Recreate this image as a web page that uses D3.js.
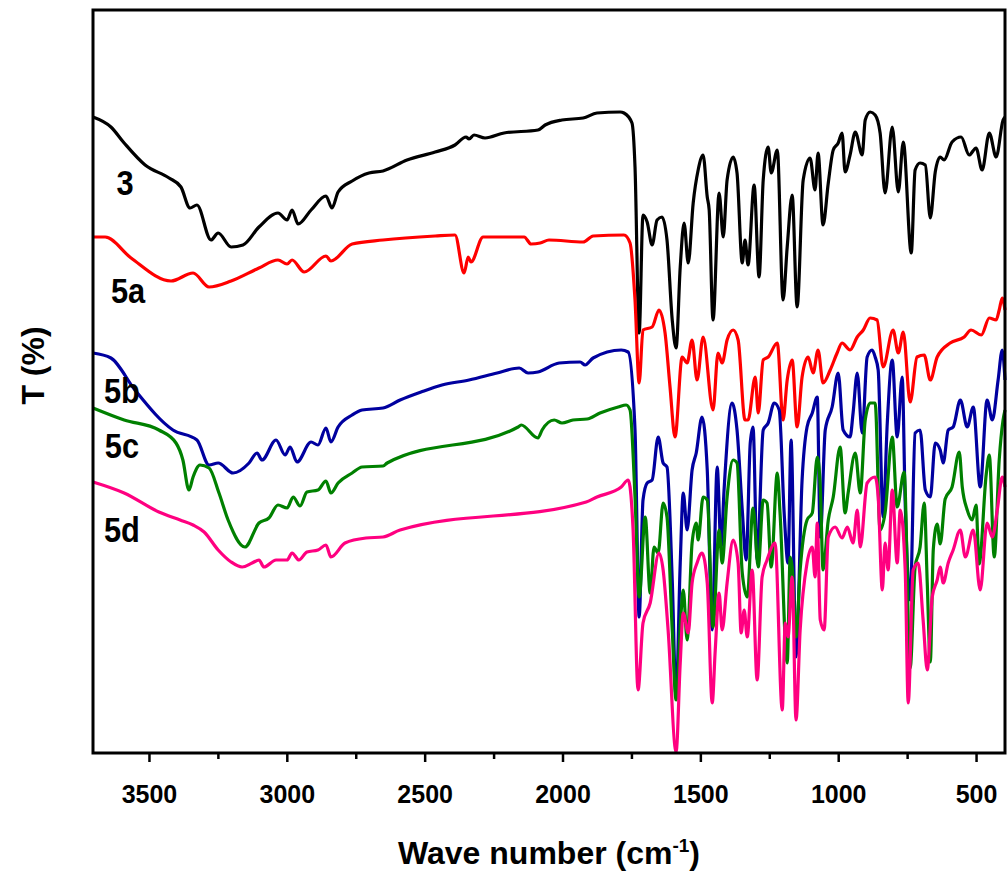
<!DOCTYPE html>
<html>
<head>
<meta charset="utf-8">
<script src="https://cdn.jsdelivr.net/npm/d3@7"></script>
<style>
  body { margin: 0; background: #fff; }
  text { font-family: "Liberation Sans", Arial, sans-serif; font-weight: bold; }
</style>
</head>
<body>
<div id="my_dataviz"></div>
<script>
// IR spectra: [wave number (cm-1), transmittance (arbitrary %)]
const series3 = [[3703,63.6],[3638,62.6],[3590,61.0],[3514,58.8],[3427,57.5],[3384,56.6],[3351,54.5],[3326,54.8],[3275,51.3],[3249,52.0],[3202,50.6],[3159,50.8],[3101,52.6],[3032,54.0],[2999,53.3],[2981,54.3],[2959,52.9],[2912,54.3],[2858,55.7],[2836,54.5],[2814,56.1],[2763,57.2],[2702,58.0],[2651,58.2],[2564,59.3],[2462,60.1],[2390,60.8],[2350,61.6],[2339,61.4],[2321,61.8],[2281,61.5],[2212,62.0],[2089,62.3],[2063,62.8],[2002,63.3],[1925,63.5],[1875,64.0],[1791,64.1],[1777,64.0],[1748,63.0],[1737,58.6],[1722,42.0],[1708,53.8],[1693,53.1],[1675,50.8],[1657,53.3],[1639,53.6],[1621,51.3],[1602,43.3],[1588,40.5],[1573,48.6],[1559,53.0],[1544,49.0],[1526,55.0],[1508,58.3],[1490,59.8],[1475,55.6],[1468,54.3],[1454,43.3],[1432,56.0],[1417,51.6],[1403,57.3],[1381,59.6],[1367,58.0],[1348,49.0],[1338,51.3],[1327,48.8],[1305,56.8],[1287,47.6],[1272,57.3],[1254,60.6],[1243,58.0],[1221,60.3],[1200,45.3],[1185,50.6],[1167,55.8],[1149,44.6],[1127,57.3],[1102,59.5],[1084,56.3],[1073,60.0],[1055,52.8],[1036,57.0],[1018,60.3],[1000,61.0],[986,62.0],[975,58.1],[957,59.8],[938,62.1],[913,59.8],[902,63.3],[884,64.1],[866,63.8],[848,62.0],[830,56.0],[804,62.6],[782,56.1],[764,61.1],[735,50.0],[721,58.3],[703,59.0],[684,58.8],[666,53.5],[648,58.1],[630,59.6],[616,59.3],[587,61.1],[554,61.6],[525,59.8],[500,60.5],[478,58.3],[452,62.0],[427,59.6],[402,63.3],[395,63.6]];

const series5a = [[3703,51.6],[3659,51.6],[3565,49.5],[3420,47.2],[3340,48.0],[3282,46.6],[3202,47.2],[3101,48.5],[3032,49.3],[2999,48.9],[2981,49.3],[2937,48.1],[2858,49.7],[2840,49.2],[2763,50.9],[2651,51.3],[2462,51.7],[2390,51.8],[2357,48.0],[2342,49.6],[2332,49.1],[2288,51.6],[2139,51.6],[2114,50.9],[2081,51.0],[2049,51.3],[1925,51.1],[1889,51.7],[1777,51.8],[1755,51.0],[1737,45.3],[1722,37.0],[1708,42.3],[1675,42.6],[1650,44.3],[1628,42.0],[1610,36.6],[1592,31.6],[1566,39.6],[1548,39.0],[1530,41.3],[1512,37.3],[1490,41.6],[1454,34.3],[1436,40.0],[1421,39.0],[1403,41.3],[1381,42.3],[1363,41.3],[1338,33.3],[1327,33.3],[1301,37.6],[1290,34.0],[1272,39.3],[1254,39.6],[1221,41.0],[1200,33.3],[1185,37.3],[1167,39.3],[1149,32.6],[1131,37.6],[1109,39.6],[1091,38.0],[1073,40.3],[1055,37.0],[1029,38.3],[1004,40.0],[986,41.0],[957,40.3],[931,41.6],[909,42.3],[884,43.5],[859,43.3],[837,38.6],[801,42.3],[782,40.0],[764,42.1],[739,35.1],[714,39.6],[688,39.8],[666,37.3],[641,39.6],[594,41.0],[543,41.6],[518,42.3],[481,41.8],[452,43.5],[427,43.3],[416,44.3],[405,45.5],[395,44.3]];

const series5b = [[3703,40.0],[3638,39.5],[3551,36.3],[3413,32.3],[3326,31.3],[3282,28.8],[3249,29.0],[3195,28.0],[3137,29.0],[3108,30.0],[3090,29.3],[3039,31.3],[3006,29.8],[2988,30.6],[2963,29.1],[2912,31.1],[2887,30.8],[2858,32.5],[2840,31.1],[2814,32.6],[2763,33.8],[2727,34.3],[2651,34.5],[2589,35.3],[2513,36.1],[2437,36.8],[2339,37.3],[2237,38.0],[2157,38.5],[2125,38.0],[2089,38.1],[2012,39.0],[1936,39.1],[1918,38.8],[1889,39.5],[1787,40.3],[1762,40.1],[1737,32.3],[1722,13.6],[1708,25.3],[1693,27.0],[1675,27.3],[1653,31.6],[1635,29.0],[1621,28.6],[1602,17.3],[1588,5.6],[1573,19.0],[1562,26.0],[1548,22.3],[1530,28.3],[1515,30.0],[1494,33.6],[1475,28.3],[1457,12.3],[1439,28.6],[1425,20.6],[1414,26.3],[1385,35.0],[1367,32.3],[1348,24.3],[1334,19.3],[1319,31.0],[1309,32.6],[1294,19.3],[1272,32.3],[1254,33.0],[1232,35.0],[1214,34.3],[1196,24.0],[1182,19.0],[1171,31.3],[1153,9.6],[1131,27.3],[1113,32.6],[1094,34.0],[1076,35.6],[1065,21.6],[1047,32.3],[1022,34.6],[1000,38.0],[982,32.3],[957,31.6],[946,34.0],[931,38.0],[913,32.0],[895,39.6],[877,40.3],[866,39.6],[855,38.3],[837,23.6],[822,33.0],[804,39.3],[786,31.6],[768,37.6],[757,25.0],[739,15.3],[721,32.0],[703,32.3],[684,26.3],[666,25.6],[648,31.0],[630,30.3],[619,29.0],[601,32.3],[583,32.6],[557,35.3],[532,32.6],[510,34.6],[485,26.6],[460,35.3],[441,33.3],[420,37.3],[405,40.3],[395,37.3]];

const series5c = [[3703,34.5],[3590,33.3],[3464,32.3],[3402,31.0],[3377,29.3],[3355,26.3],[3340,27.6],[3315,28.8],[3282,28.5],[3246,26.0],[3213,23.3],[3152,20.6],[3101,23.0],[3065,23.5],[3032,24.8],[2999,24.5],[2977,25.6],[2952,24.7],[2927,26.1],[2887,26.3],[2858,27.2],[2840,26.0],[2814,27.0],[2763,28.0],[2727,28.6],[2651,28.7],[2636,29.0],[2161,32.6],[2150,32.8],[2089,31.5],[2074,32.3],[2030,33.3],[2002,33.0],[1962,33.3],[1911,33.4],[1864,34.0],[1798,34.6],[1769,34.8],[1755,34.3],[1737,25.6],[1722,15.6],[1700,23.6],[1682,16.0],[1668,20.6],[1653,20.0],[1635,25.0],[1621,23.6],[1602,12.3],[1588,5.3],[1570,14.0],[1562,16.3],[1548,11.3],[1530,21.0],[1515,23.0],[1508,21.3],[1490,25.6],[1475,25.3],[1454,12.6],[1432,22.3],[1421,19.0],[1403,25.6],[1381,29.3],[1367,29.0],[1348,18.0],[1330,15.6],[1309,24.5],[1290,18.6],[1272,25.3],[1258,25.0],[1243,18.6],[1221,28.0],[1211,24.0],[1185,9.0],[1174,19.6],[1167,18.6],[1153,11.6],[1138,18.3],[1113,23.3],[1094,24.0],[1076,29.6],[1065,26.6],[1055,18.3],[1036,23.3],[1018,25.6],[993,30.6],[975,24.0],[964,26.0],[938,30.0],[920,26.0],[902,33.3],[884,35.0],[866,35.0],[848,22.3],[830,24.0],[804,31.6],[786,24.6],[761,28.1],[739,8.5],[721,18.6],[703,20.6],[688,25.0],[677,17.0],[666,9.1],[655,20.4],[641,22.9],[630,20.9],[612,25.4],[587,26.6],[561,30.1],[550,26.6],[532,24.3],[514,23.3],[500,24.8],[489,18.9],[463,27.9],[452,29.8],[434,19.6],[416,29.3],[402,33.3],[395,34.3]];

const series5d = [[3703,27.1],[3590,26.0],[3464,24.1],[3387,23.3],[3340,22.8],[3300,22.1],[3249,20.3],[3202,19.1],[3162,18.6],[3126,19.0],[3101,19.3],[3083,18.6],[3039,19.3],[2999,19.3],[2981,20.0],[2956,19.3],[2927,20.1],[2887,20.3],[2858,20.8],[2840,19.6],[2789,21.0],[2713,21.5],[2651,21.6],[2589,22.3],[1914,25.1],[1875,25.6],[1787,26.6],[1762,27.3],[1755,26.6],[1744,22.3],[1726,6.3],[1708,13.0],[1682,15.0],[1650,20.0],[1635,18.3],[1617,12.3],[1588,0.1],[1573,9.0],[1562,14.0],[1544,12.0],[1530,17.0],[1512,19.0],[1494,20.0],[1475,17.0],[1457,5.0],[1446,10.3],[1432,16.0],[1421,12.3],[1403,17.0],[1381,21.3],[1363,19.0],[1352,12.0],[1341,14.3],[1330,11.6],[1312,18.3],[1294,7.3],[1276,17.6],[1258,19.3],[1229,21.0],[1203,4.3],[1192,13.0],[1182,11.6],[1167,17.6],[1153,3.3],[1138,12.3],[1113,19.0],[1094,20.6],[1084,17.6],[1076,23.0],[1065,13.3],[1051,12.3],[1036,21.6],[1011,22.6],[986,21.5],[967,22.6],[946,21.0],[931,24.3],[920,20.6],[895,27.0],[866,27.6],[855,25.6],[840,16.3],[830,21.0],[819,18.3],[804,26.3],[786,19.0],[775,24.3],[757,18.3],[746,5.0],[728,18.3],[710,19.0],[692,13.3],[677,8.3],[659,15.6],[641,17.3],[630,18.6],[619,17.0],[601,19.0],[583,20.3],[557,22.3],[539,19.6],[510,22.3],[485,16.3],[460,23.0],[441,21.6],[423,24.3],[405,27.6],[395,26.6]];

const seriesNames = ["3", "5a", "5b", "5c", "5d"];
const seriesData = [series3, series5a, series5b, series5c, series5d];
const majorTicks = [3500, 3000, 2500, 2000, 1500, 1000, 500];
const minorTicks = [3250, 2750, 2250, 1750, 1250, 750];

const colors = ["#000000", "#ff0000", "#00009f", "#008000", "#ff0080"];
// where each name sits: [wave number, T] of its baseline centre
const labelAt = [[3587, 55.8], [3576, 45.0], [3598, 35.0], [3598, 29.5], [3598, 21.1]];

// set the dimensions and margins of the graph
const margin = {top: 10, right: 2, bottom: 126, left: 93},
      width = 1007 - margin.left - margin.right,
      height = 879 - margin.top - margin.bottom;

const svg = d3.select("#my_dataviz")
  .append("svg")
  .attr("width", width + margin.left + margin.right)
  .attr("height", height + margin.top + margin.bottom)
  .append("g")
  .attr("transform", `translate(${margin.left}, ${margin.top})`);

const x = d3.scaleLinear().domain([3703, 395]).range([0, width]);
const y = d3.scaleLinear().domain([0, 74.3]).range([height, 0]);

// minor ticks
svg.append("g")
  .attr("transform", `translate(0, ${height})`)
  .call(d3.axisBottom(x).tickValues(minorTicks).tickSize(6).tickFormat(""))
  .call(g => g.select(".domain").remove())
  .call(g => g.selectAll("line").attr("stroke-width", 2.5));

// major ticks + labels
svg.append("g")
  .attr("transform", `translate(0, ${height})`)
  .call(d3.axisBottom(x).tickValues(majorTicks).tickSize(9).tickPadding(23).tickFormat(d3.format("d")))
  .call(g => g.select(".domain").remove())
  .call(g => g.selectAll("line").attr("stroke-width", 2.5))
  .call(g => g.selectAll("text")
    .style("font-size", "25px")
    .style("font-weight", "bold")
    .style("font-family", '"Liberation Sans", Arial, sans-serif')
    .attr("fill", "#000"));

// spectra
const line = d3.line()
  .x(d => x(d[0]))
  .y(d => y(d[1]))
  .curve(d3.curveMonotoneX);

svg.append("g")
  .selectAll("path")
  .data(seriesData)
  .join("path")
    .attr("d", d => line(d))
    .attr("fill", "none")
    .attr("stroke", (d, i) => colors[i])
    .attr("stroke-width", 3.2)
    .attr("stroke-linejoin", "round");

// series names (slightly condensed bold face)
svg.append("g")
  .selectAll("text")
  .data(seriesNames)
  .join("text")
    .attr("transform", (d, i) => `translate(${x(labelAt[i][0])}, ${y(labelAt[i][1])}) scale(0.88, 1)`)
    .attr("text-anchor", "middle")
    .style("font-size", "35px")
    .text(d => d);

// frame
svg.append("rect")
  .attr("width", width)
  .attr("height", height)
  .attr("fill", "none")
  .attr("stroke", "#000")
  .attr("stroke-width", 3);

// axis titles
const xt = svg.append("text")
  .attr("x", width / 2)
  .attr("y", height + 111)
  .attr("text-anchor", "middle")
  .style("font-size", "32px");
xt.append("tspan").text("Wave number (cm");
xt.append("tspan").attr("dy", -12).style("font-size", "19px").text("-1");
xt.append("tspan").attr("dy", 12).text(")");

svg.append("text")
  .attr("transform", `translate(${-margin.left + 44}, ${height / 2 - 16}) rotate(-90)`)
  .attr("text-anchor", "middle")
  .style("font-size", "32px")
  .text("T (%)");
</script>
</body>
</html>
